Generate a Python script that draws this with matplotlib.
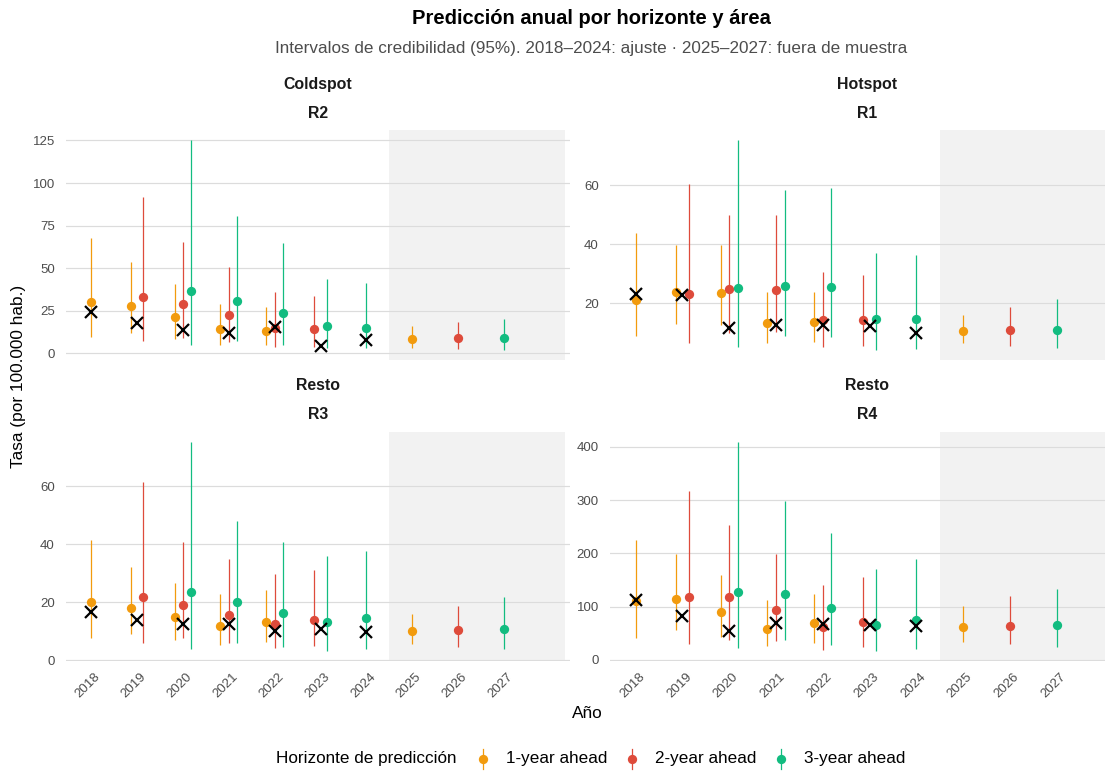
import numpy as np
import matplotlib.pyplot as plt
from matplotlib.lines import Line2D
from matplotlib.transforms import ScaledTranslation

plt.rcParams['font.family'] = ['Liberation Sans', 'DejaVu Sans']

# prediction years for each horizon (fit years + one out-of-sample year)
h1_years = [2018, 2019, 2020, 2021, 2022, 2025]
h2_years = [2019, 2020, 2021, 2022, 2023, 2026]
h3_years = [2020, 2021, 2022, 2023, 2024, 2027]
obs_years = [2018, 2019, 2020, 2021, 2022, 2023, 2024]
horizons = ['1-year ahead', '2-year ahead', '3-year ahead']
years = list(range(2018, 2028))

# R2 (Coldspot)
r2_mid = [[30.2, 27.8, 21.2, 14.1, 13.3, 8.6],
          [33.3, 29.2, 22.5, 15.1, 14.3, 8.8],
          [36.6, 30.8, 23.5, 15.9, 15.1, 9.0]]
r2_lo = [[9.8, 11.8, 8.2, 5.1, 5.1, 3.3],
         [7.2, 9.2, 6.9, 3.9, 3.7, 2.7],
         [5.1, 7.4, 5.1, 3.3, 3.3, 2.2]]
r2_hi = [[67.8, 53.5, 40.6, 29.2, 27.2, 16.1],
         [91.5, 65.4, 50.9, 36.2, 33.9, 18.4],
         [125.0, 80.7, 64.7, 43.9, 41.3, 20.2]]
r2_obs = [24.5, 17.6, 13.7, 12.1, 15.3, 4.3, 7.8]

# R1 (Hotspot)
r1_mid = [[21.0, 23.75, 23.3, 13.2, 13.4, 10.5],
          [23.1, 24.8, 24.3, 14.1, 14.1, 10.7],
          [25.0, 25.7, 25.3, 14.5, 14.7, 11.0]]
r1_lo = [[8.75, 13.0, 12.5, 6.5, 6.9, 6.5],
         [6.4, 9.7, 10.0, 5.0, 5.5, 5.5],
         [4.9, 8.75, 8.5, 4.2, 4.4, 4.7]]
r1_hi = [[43.75, 39.8, 39.8, 23.6, 23.6, 15.9],
         [60.5, 49.8, 50.0, 30.6, 29.5, 18.75],
         [75.3, 58.6, 59.1, 37.0, 36.4, 21.4]]
r1_obs = [23.2, 22.7, 11.4, 12.5, 12.5, 12.3, 9.7]

# R3 (Resto)
r3_mid = [[20.0, 18.2, 15.0, 12.0, 13.2, 10.1],
          [21.8, 19.2, 15.8, 12.7, 13.8, 10.4],
          [23.7, 20.0, 16.4, 13.4, 14.5, 10.8]]
r3_lo = [[7.8, 9.1, 7.2, 5.4, 6.4, 5.5],
         [5.9, 7.6, 6.0, 4.4, 4.9, 4.8],
         [4.1, 6.0, 4.6, 3.4, 3.9, 4.0]]
r3_hi = [[41.5, 32.1, 26.7, 22.8, 24.3, 16.1],
         [61.5, 40.8, 35.0, 29.6, 31.2, 18.9],
         [75.1, 47.8, 40.8, 35.9, 37.7, 21.8]]
r3_obs = [16.6, 13.8, 12.6, 12.6, 10.2, 10.8, 9.75]

# R4 (Resto)
r4_mid = [[110.6, 114.4, 90.0, 58.75, 69.4, 61.9],
          [117.5, 118.75, 93.1, 62.5, 71.9, 63.1],
          [127.5, 123.75, 97.5, 65.6, 75.6, 65.6]]
r4_lo = [[41.9, 56.9, 43.75, 25.6, 32.5, 33.75],
         [30.6, 37.5, 35.6, 19.4, 25.0, 29.4],
         [21.9, 38.1, 28.1, 17.5, 20.6, 25.0]]
r4_hi = [[225.0, 199.4, 159.4, 111.9, 123.75, 101.25],
         [317.5, 253.0, 199.4, 140.6, 155.0, 120.0],
         [408.75, 298.0, 238.0, 170.6, 190.0, 133.0]]
r4_obs = [111.9, 82.5, 53.75, 70.0, 68.1, 65.6, 63.1]

r2_ticks = [0, 25, 50, 75, 100, 125]
r1_ticks = [20, 40, 60]
r3_ticks = [0, 20, 40, 60]
r4_ticks = [0, 100, 200, 300, 400]

colors = ['#F29B0E', '#DE4B3B', '#12BC80']
h_years = [h1_years, h2_years, h3_years]

W, H = 1105, 772
fig = plt.figure(figsize=(W / 100, H / 100), dpi=100)


def rect(l, t, r, b):
    return [l / W, 1 - b / H, (r - l) / W, (b - t) / H]


def fx(x):
    return x / W


def fy(y):
    return 1 - y / H


panels = [
    ('Coldspot', 'R2', r2_mid, r2_lo, r2_hi, r2_obs, r2_ticks, (66, 130, 570, 360), False),
    ('Hotspot', 'R1', r1_mid, r1_lo, r1_hi, r1_obs, r1_ticks, (610, 130, 1124, 360), False),
    ('Resto', 'R3', r3_mid, r3_lo, r3_hi, r3_obs, r3_ticks, (66, 431.7, 570, 661), True),
    ('Resto', 'R4', r4_mid, r4_lo, r4_hi, r4_obs, r4_ticks, (610, 431.7, 1124, 661), True),
]

# position_dodge-like offsets, width 0.55
dodge = 0.55
offsets = []
for k in range(3):
    offs = []
    for y in h_years[k]:
        present = [j for j in range(3) if y in h_years[j]]
        n = len(present)
        i = present.index(k)
        offs.append((i - (n - 1) / 2) * dodge / n)
    offsets.append(offs)

label_shift = ScaledTranslation(3 / 100, -3 / 100, fig.dpi_scale_trans)

for area, reg, mid, lo, hi, obs, ticks, box, bottom in panels:
    ax = fig.add_axes(rect(*box))
    allv = np.concatenate([np.ravel(lo), np.ravel(hi), obs])
    vmin, vmax = allv.min(), allv.max()
    pad = 0.05 * (vmax - vmin)
    ax.set_ylim(vmin - pad, vmax + pad)
    ax.set_xlim(2017.45, 2028.44)

    ax.axvspan(2024.5, 2028.33, color='#F2F2F2', lw=0, zorder=0)
    for t in ticks:
        ax.axhline(t, color='#DCDCDC', lw=0.85, zorder=0.5)

    for k in range(3):
        xs = np.array(h_years[k]) + np.array(offsets[k])
        ax.vlines(xs, lo[k], hi[k], color=colors[k], lw=0.9, zorder=2)
        ax.plot(xs, mid[k], 'o', color=colors[k], ms=6.7, mew=0, zorder=3)
    ax.plot(obs_years, obs, 'x', color='black', ms=8.3, mew=1.6, zorder=4)

    for s in ax.spines.values():
        s.set_visible(False)
    ax.set_yticks(ticks)
    ax.set_yticklabels([str(t) for t in ticks])
    ax.tick_params(axis='both', length=0, labelsize=9.5, labelcolor='#4D4D4D', pad=8)
    ax.set_xticks(years)
    if bottom:
        ax.set_xticklabels([str(y) for y in years], rotation=45, ha='right',
                           rotation_mode='anchor')
        ax.tick_params(axis='x', pad=5)
        for lab in ax.get_xticklabels():
            lab.set_transform(lab.get_transform() + label_shift)
    else:
        ax.set_xticklabels([])

    cx = (box[0] + box[2]) / 2
    fig.text(fx(cx), fy(box[1] - 46), area, ha='center', va='center',
             fontsize=11.4, fontweight='bold', color='#1A1A1A')
    fig.text(fx(cx), fy(box[1] - 17), reg, ha='center', va='center',
             fontsize=11.4, fontweight='bold', color='#1A1A1A')

fig.text(fx(591), fy(18), 'Predicción anual por horizonte y área', ha='center',
         va='center', fontsize=14.5, fontweight='bold', color='black')
fig.text(fx(591), fy(48),
         'Intervalos de credibilidad (95%). 2018–2024: ajuste · 2025–2027: fuera de muestra',
         ha='center', va='center', fontsize=12.3, color='#4D4D4D')
fig.text(fx(19), fy(376), 'Tasa (por 100.000 hab.)', rotation=90, ha='center',
         va='center', fontsize=12.4, color='black')
fig.text(fx(587), fy(714), 'Año', ha='center', va='center', fontsize=12.4,
         color='black')

# legend
ly = 759
fig.text(fx(276), fy(ly), 'Horizonte de predicción', ha='left', va='center',
         fontsize=12.3, color='black')
key_x = [483, 632, 781]
for k in range(3):
    fig.add_artist(Line2D([fx(key_x[k])] * 2, [fy(ly - 10), fy(ly + 10)],
                          color=colors[k], lw=0.9))
    fig.add_artist(Line2D([fx(key_x[k])], [fy(ly)], marker='o', ms=6.7, mew=0,
                          color=colors[k]))
    fig.text(fx(key_x[k] + 23), fy(ly), horizons[k], ha='left', va='center',
             fontsize=12.3, color='black')

fig.savefig('out.png', dpi=100)
